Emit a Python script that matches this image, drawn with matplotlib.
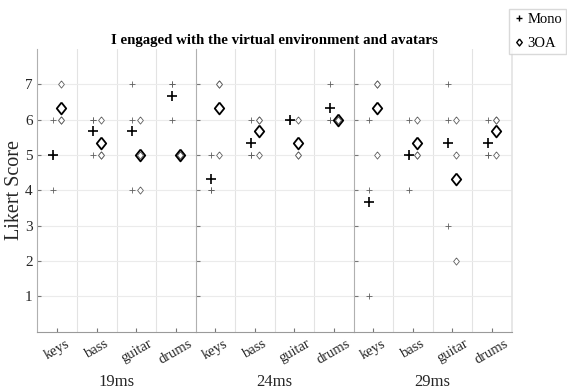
import numpy as np
import matplotlib
matplotlib.use("Agg")
import matplotlib.pyplot as plt
import matplotlib.transforms as mtransforms
from matplotlib.lines import Line2D

plt.rcParams["font.family"] = "Liberation Serif"

instruments = ["keys", "bass", "guitar", "drums"]
delays = ["19ms", "24ms", "29ms"]

# ratings of the 3 participants, one list per instrument
mono_19 = [[6, 5, 4], [6, 6, 5], [7, 6, 4], [7, 7, 6]]
foa_19 = [[7, 6, 6], [6, 5, 5], [6, 5, 4], [5, 5, 5]]
mono_24 = [[5, 4, 4], [6, 5, 5], [6, 6, 6], [7, 6, 6]]
foa_24 = [[7, 7, 5], [6, 6, 5], [6, 5, 5], [6, 6, 6]]
mono_29 = [[6, 4, 1], [6, 5, 4], [7, 6, 3], [6, 5, 5]]
foa_29 = [[7, 7, 5], [6, 5, 5], [6, 5, 2], [6, 6, 5]]

mono_all = [mono_19, mono_24, mono_29]
foa_all = [foa_19, foa_24, foa_29]

# wider diamond than matplotlib's 'd'
diamond = [(0, 0.5), (0.4, 0), (0, -0.5), (-0.4, 0), (0, 0.5)]

fig = plt.figure(figsize=(5.67, 3.9), dpi=100)
left, right, bottom, top = 0.0661, 0.9025, 0.1495, 0.8744
w = (right - left) / 3
off = 0.1

for g in range(3):
    ax = fig.add_axes([left + g * w, bottom, w, top - bottom])
    x = np.arange(1, 5)
    for i in range(4):
        m = mono_all[g][i]
        f = foa_all[g][i]
        ax.plot([x[i] - off] * len(m), m, "+", color="#606060", ms=4, mew=0.6, zorder=3)
        ax.plot([x[i] + off] * len(f), f, marker=diamond, ls="none", color="#606060", mfc="white", ms=5.2, mew=0.6, zorder=3)
        ax.plot(x[i] - off, np.mean(m), "+", color="black", ms=7, mew=1.2, zorder=4)
        ax.plot(x[i] + off, np.mean(f), marker=diamond, ls="none", color="black", mfc="none", ms=8.5, mew=1.3, zorder=4)

    ax.set_xlim(0.5, 4.5)
    ax.set_ylim(0, 8)
    ax.set_yticks(range(1, 8))
    ax.set_xticks(x)
    ax.set_xticks([1.5, 2.5, 3.5], minor=True)
    ax.set_xticklabels(instruments, rotation=30, fontsize=10.5, color="#262626", ha="center")
    shift = mtransforms.ScaledTranslation(-7 / 100, 0, fig.dpi_scale_trans)
    for lab in ax.get_xticklabels():
        lab.set_transform(lab.get_transform() + shift)
    ax.tick_params(axis="x", which="minor", length=0)
    ax.tick_params(direction="in", length=3, color="#777777")
    ax.tick_params(axis="x", pad=4)
    ax.grid(axis="y", color="#ebebeb", lw=0.8)
    ax.grid(axis="x", which="minor", color="#e3e3e3", lw=0.8)
    ax.set_axisbelow(True)
    ax.spines["top"].set_visible(False)
    ax.spines["left"].set_color("#b0b0b0")
    ax.spines["bottom"].set_color("#9a9a9a")
    if g < 2:
        ax.spines["right"].set_visible(False)
    else:
        ax.spines["right"].set_color("#e3e3e3")
        ax.spines["right"].set_linewidth(1.2)
    if g == 0:
        ax.set_yticklabels([str(v) for v in range(1, 8)], fontsize=11, color="#262626")
        ax.set_ylabel("Likert Score", fontsize=14.5, color="#262626", labelpad=1)
    else:
        ax.set_yticklabels([])
    ax.set_xlabel(delays[g], fontsize=12, color="#262626", labelpad=5)

fig.text((left + right) / 2, 0.88, "I engaged with the virtual environment and avatars",
         ha="center", va="bottom", fontsize=10.7, fontweight="bold")

handles = [Line2D([], [], ls="none", marker="+", color="black", ms=4, mew=1),
           Line2D([], [], ls="none", marker=diamond, color="black", mfc="white", ms=5, mew=1)]
fig.legend(handles, ["Mono", "3OA"], loc="upper left", bbox_to_anchor=(509 / 567, 1 - 9 / 390),
           fontsize=10.5, frameon=True, edgecolor="#d0d0d0", fancybox=False,
           handlelength=0.8, handletextpad=0.2, borderpad=0.26, labelspacing=0.72,
           borderaxespad=0)

fig.savefig("out.png", dpi=100)
